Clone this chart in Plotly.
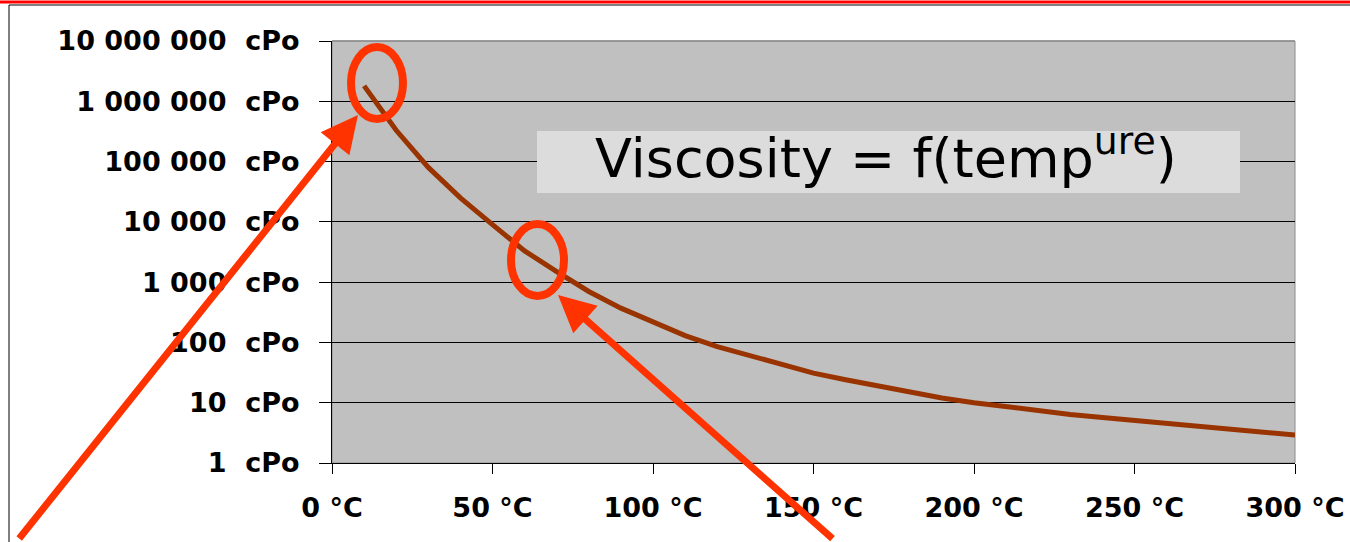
import plotly.graph_objects as go

# ---- data ----
temperatures = [10, 20, 30, 40, 50, 60, 70, 80, 90, 100, 110, 120, 130, 140, 150,
                160, 170, 180, 190, 200, 210, 220, 230, 240, 250, 260, 270, 280, 290, 300]
viscosity_cpo = [1.8e6, 3.3e5, 8.0e4, 2.5e4, 9.0e3, 3.3e3, 1.5e3, 700, 370, 220,
                 130, 85, 60, 43, 31, 24, 19, 15, 12, 10,
                 8.6, 7.3, 6.4, 5.7, 5.1, 4.5, 4.0, 3.6, 3.3, 2.9]

y_tickvals = [1, 10, 100, 1000, 10000, 100000, 1000000, 10000000]
y_ticktext = ["1  cPo", "10  cPo", "100  cPo", "1 000  cPo", "10 000  cPo",
              "100 000  cPo", "1 000 000  cPo", "10 000 000  cPo"]
x_tickvals = [0, 50, 100, 150, 200, 250, 300]
x_ticktext = ["0 °C", "50 °C", "100 °C", "150 °C", "200 °C", "250 °C", "300 °C"]
title_text = "Viscosity = f(temp<sup>ure</sup>)"

# ---- layout geometry (pixels) ----
W, H = 1350, 542
L, R, T, B = 332, 1295, 41, 463


def nb(s):
    return s.replace(" ", "\u00a0")


def px(xp):
    return (xp - L) / (R - L)


def py(yp):
    return (B - yp) / (B - T)


RED = "#FF3300"

fig = go.Figure()
fig.add_trace(go.Scatter(
    x=temperatures, y=viscosity_cpo, mode="lines",
    line=dict(color="#993300", width=5), showlegend=False, hoverinfo="skip"))

shapes = [
    # plot frame (gray), top edge drawn over the top gridline
    dict(type="rect", xref="paper", yref="paper", x0=0, x1=1, y0=0, y1=1,
         line=dict(color="#8C8C8C", width=1), layer="below"),
    dict(type="line", xref="paper", yref="paper", x0=0, x1=1, y0=1, y1=1,
         line=dict(color="#8C8C8C", width=1.5), layer="above"),
    # title box
    dict(type="rect", xref="paper", yref="paper", x0=px(537), x1=px(1240),
         y0=py(193), y1=py(131), fillcolor="#DCDCDC", line=dict(width=0), layer="above"),
    # slide decorations
    dict(type="line", xref="paper", yref="paper", x0=px(0), x1=px(W), y0=py(2), y1=py(2),
         line=dict(color="#FF0000", width=3)),
    dict(type="line", xref="paper", yref="paper", x0=px(9), x1=px(W), y0=py(5), y1=py(5),
         line=dict(color="#000000", width=1)),
    dict(type="line", xref="paper", yref="paper", x0=px(9), x1=px(9), y0=py(5), y1=py(H + 5),
         line=dict(color="#000000", width=1)),
    # ellipses
    dict(type="circle", xref="paper", yref="paper", x0=px(351), x1=px(403), y0=py(119), y1=py(47),
         line=dict(color=RED, width=8), layer="above"),
    dict(type="circle", xref="paper", yref="paper", x0=px(511), x1=px(564), y0=py(296), y1=py(224),
         line=dict(color=RED, width=8), layer="above"),
]

annotations = [
    dict(xref="paper", yref="paper", x=px(886), y=py(154), text=title_text,
         showarrow=False, xanchor="center", yanchor="middle",
         font=dict(family="DejaVu Sans", size=54, color="#000000")),
    dict(xref="paper", yref="paper", x=px(358), y=py(115), ax=18 - 358, ay=540 - 115,
         text="", showarrow=True, arrowhead=2, arrowsize=1.05, arrowwidth=7, arrowcolor=RED),
    dict(xref="paper", yref="paper", x=px(558), y=py(295), ax=834 - 558, ay=540 - 295,
         text="", showarrow=True, arrowhead=2, arrowsize=1.05, arrowwidth=7, arrowcolor=RED),
]

tick_font = dict(family="DejaVu Sans", size=27, color="#000000", weight="bold")

fig.update_layout(
    width=W, height=H, autosize=False,
    margin=dict(l=L, r=W - R, t=T, b=H - B, pad=0, autoexpand=False),
    paper_bgcolor="#FFFFFF", plot_bgcolor="#C0C0C0",
    shapes=shapes, annotations=annotations, showlegend=False,
    xaxis=dict(range=[0, 300], tickvals=x_tickvals, ticktext=[nb(t) for t in x_ticktext],
               showgrid=False, zeroline=False, showline=True, linecolor="#000000", linewidth=1,
               ticks="outside", ticklen=10, tickcolor="#000000", tickwidth=1, automargin=False,
               tickfont=tick_font, ticklabelstandoff=11, fixedrange=True),
    yaxis=dict(type="log", range=[0, 7], tickvals=y_tickvals, ticktext=[nb(t) for t in y_ticktext],
               showgrid=True, gridcolor="#000000", gridwidth=1, zeroline=False,
               showline=True, linecolor="#000000", linewidth=1, automargin=False,
               ticks="outside", ticklen=12, tickcolor="#000000", tickwidth=1,
               tickfont=tick_font, ticklabelstandoff=14, fixedrange=True),
)

fig.write_html(
    "out.html",
    config=dict(displayModeBar=False, responsive=False),
    post_script="document.body.style.margin='0';document.body.style.overflow='hidden';",
)
